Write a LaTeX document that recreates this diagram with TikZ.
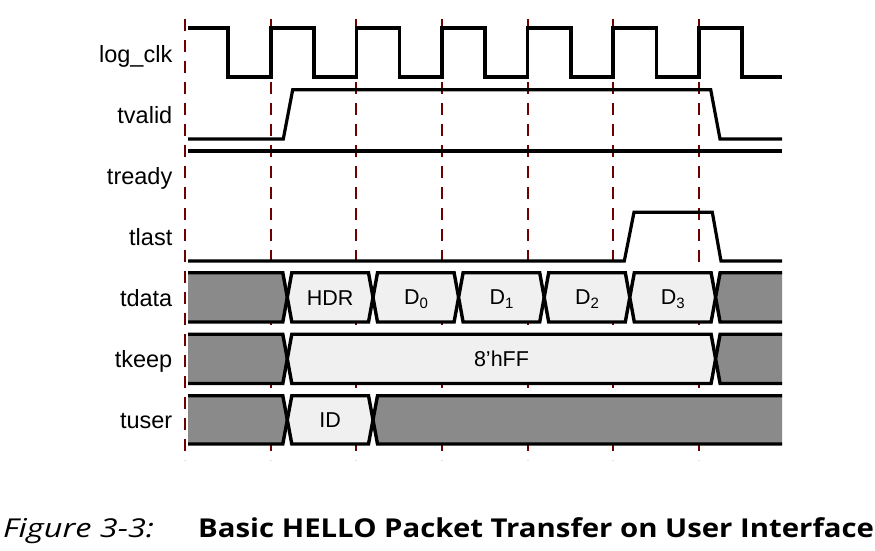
\documentclass[tikz,border=0pt]{standalone}
\usepackage{fontspec}
\setmainfont{Liberation Sans}
\newfontfamily\capfont{Open Sans}
\definecolor{gridred}{HTML}{6E0000}
\definecolor{busgray}{HTML}{8A8A8A}
\definecolor{buslight}{HTML}{F0F0F0}
\newcommand{\sigfont}{\fontsize{23.5}{26}\selectfont}
\newcommand{\busfont}{\fontsize{21.5}{24}\selectfont}
\newcommand{\subd}[1]{D\raisebox{-0.35ex}{\fontsize{15}{15}\selectfont #1}}
\tikzset{
  wave/.style={line width=3.6pt, line join=miter, line cap=butt},
  gridline/.style={gridred, line width=2pt, dash pattern=on 12pt off 9pt},
  busedge/.style={line width=3.4pt, line join=miter},
  siglabel/.style={anchor=base east, inner sep=0pt, font=\sigfont},
  buslabel/.style={inner sep=0pt, font=\busfont},
  caption/.style={anchor=base west, inner sep=0pt, font=\capfont\fontsize{26}{28}\selectfont}
}
% segment: x1, x2, top, bottom, fill colour ; w = 4.5
\newcommand{\busseg}[5]{%
  \fill[#5] ({#1},{(#3+#4)/2}) -- ({#1+4.5},#3) -- ({#2-4.5},#3) -- ({#2},{(#3+#4)/2}) -- ({#2-4.5},#4) -- ({#1+4.5},#4) -- cycle;
  \draw[busedge] ({#1},{(#3+#4)/2}) -- ({#1+4.5},#3) -- ({#2-4.5},#3) -- ({#2},{(#3+#4)/2}) -- ({#2-4.5},#4) -- ({#1+4.5},#4) -- cycle;}
\newcommand{\busstart}[4]{%
  \fill[#4] (188,#2) -- ({#1-4.5},#2) -- ({#1},{(#2+#3)/2}) -- ({#1-4.5},#3) -- (188,#3) -- cycle;
  \draw[busedge] (188,#2) -- ({#1-4.5},#2) -- ({#1},{(#2+#3)/2}) -- ({#1-4.5},#3) -- (188,#3);}
\newcommand{\busend}[4]{%
  \fill[#4] (782,#2) -- ({#1+4.5},#2) -- ({#1},{(#2+#3)/2}) -- ({#1+4.5},#3) -- (782,#3) -- cycle;
  \draw[busedge] (782,#2) -- ({#1+4.5},#2) -- ({#1},{(#2+#3)/2}) -- ({#1+4.5},#3) -- (782,#3);}
\begin{document}
\begin{tikzpicture}[x=1pt,y=-1pt]
\fill[white] (0,0) rectangle (875,551);
\useasboundingbox (0,0) rectangle (875,551);

% grid lines
\foreach \gx in {185,270.7,356.3,441.9,527.5,613.1,698.7}
  \draw[gridline] (\gx,19) -- (\gx,460);

% labels
\node[siglabel] (lclk) at (172.5,62.2) {log\_clk};
\node[siglabel] (lvalid) at (172.5,123.3) {tvalid};
\node[siglabel] (lready) at (172.5,184.4) {tready};
\node[siglabel] (llast) at (172.5,245.5) {tlast};
\node[siglabel] (ldata) at (172.5,306.6) {tdata};
\node[siglabel] (lkeep) at (172.5,367.7) {tkeep};
\node[siglabel] (luser) at (172.5,428.8) {tuser};

% clock
\draw[wave] (188,28.3) -- (228,28.3) -- (228,77)
  \foreach \r in {270.7,356.3,441.9,527.5,613.1,698.7} {
    -- (\r,77) -- (\r,28.3) -- ({\r+43.3},28.3) -- ({\r+43.3},77)
  } -- (782,77);

% tvalid
\draw[wave, line width=3.2pt] (188,139) -- (283.3,139) -- (292.7,89.7) -- (710.7,89.7) -- (720,139) -- (782,139);
% tready
\draw[wave] (188,151) -- (782,151);
% tlast
\draw[wave, line width=3.2pt] (188,261) -- (624.3,261) -- (634,212.3) -- (712.3,212.3) -- (721,261) -- (782,261);

% tdata
\busstart{287.3}{272.7}{322}{busgray}
\busseg{287.3}{373}{272.7}{322}{buslight}
\busseg{373}{458.6}{272.7}{322}{buslight}
\busseg{458.6}{544.2}{272.7}{322}{buslight}
\busseg{544.2}{629.8}{272.7}{322}{buslight}
\busseg{629.8}{715.6}{272.7}{322}{buslight}
\busend{715.6}{272.7}{322}{busgray}
\node[buslabel] (hdr) at (330.2,298) {HDR};
\node[buslabel] (d0) at (416,299) {\subd{0}};
\node[buslabel] (d1) at (501.5,299) {\subd{1}};
\node[buslabel] (d2) at (587,299) {\subd{2}};
\node[buslabel] (d3) at (672.7,299) {\subd{3}};

% tkeep
\busstart{287.3}{334.2}{383.5}{busgray}
\busseg{287.3}{715.6}{334.2}{383.5}{buslight}
\busend{715.6}{334.2}{383.5}{busgray}
\node[buslabel] (hff) at (501.5,359) {8’hFF};

% tuser
\busstart{287.3}{395.7}{444}{busgray}
\busseg{287.3}{373}{395.7}{444}{buslight}
\busend{373}{395.7}{444}{busgray}
\node[buslabel] (id) at (330.2,420) {ID};

% caption
\node[caption] (figno) at (3,537) {\scalebox{1.25}[1]{\itshape Figure 3-3:}};
\node[caption] (figtitle) at (198,537) {\scalebox{1.128}[1]{\bfseries Basic HELLO Packet Transfer on User Interface}};
\end{tikzpicture}
\end{document}
